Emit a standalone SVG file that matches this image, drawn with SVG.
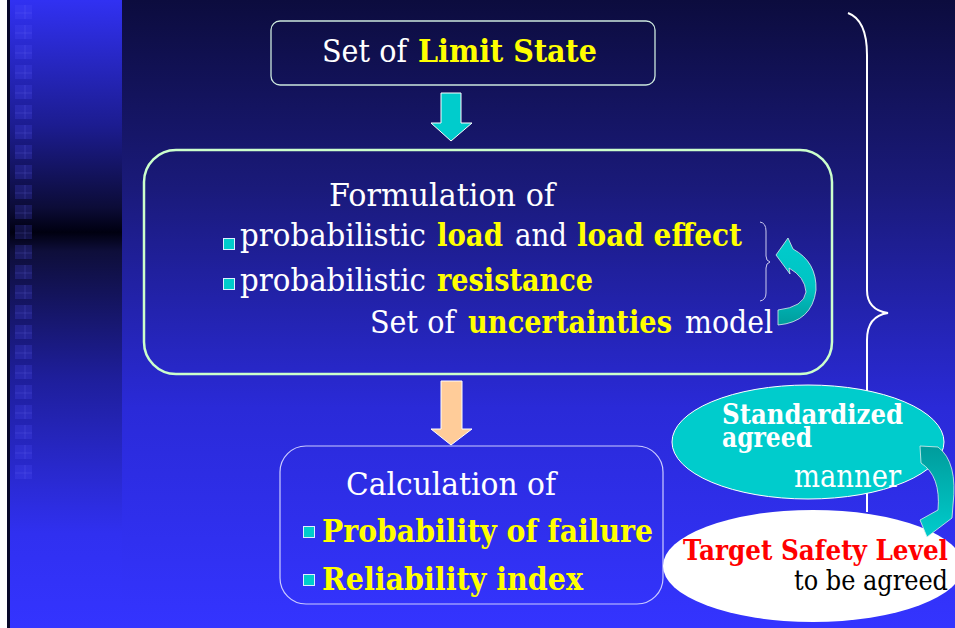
<svg xmlns="http://www.w3.org/2000/svg" width="955" height="628" viewBox="0 0 955 628">
<defs>
<linearGradient id="bgMain" x1="0" y1="0" x2="0" y2="1">
<stop offset="0" stop-color="#0c0c3e"/>
<stop offset="0.3" stop-color="#1a1a7a"/>
<stop offset="0.65" stop-color="#2a2ad8"/>
<stop offset="1" stop-color="#3434ff"/>
</linearGradient>
<linearGradient id="bgStrip" x1="0" y1="0" x2="0" y2="1">
<stop offset="0" stop-color="#3131f2"/>
<stop offset="0.2" stop-color="#1c1c90"/>
<stop offset="0.33" stop-color="#0c0c38"/>
<stop offset="0.37" stop-color="#000010"/>
<stop offset="0.4" stop-color="#0e0e3a"/>
<stop offset="0.6" stop-color="#1e1e9a"/>
<stop offset="0.85" stop-color="#3030f0"/>
<stop offset="1" stop-color="#3434ff"/>
</linearGradient>
<linearGradient id="curl" x1="0" y1="0" x2="0" y2="1">
<stop offset="0" stop-color="#00cccc"/>
<stop offset="0.55" stop-color="#00c4c4"/>
<stop offset="1" stop-color="#009c9c"/>
</linearGradient>
<linearGradient id="curl2" x1="0" y1="0" x2="0" y2="1">
<stop offset="0" stop-color="#009c9c"/>
<stop offset="1" stop-color="#00cccc"/>
</linearGradient>
<pattern id="sq" x="15" y="5" width="20" height="20" patternUnits="userSpaceOnUse">
<rect x="0" y="0" width="17" height="14" fill="#5050ff" fill-opacity="0.2"/>
<line x1="10" y1="0" x2="10" y2="14" stroke="#8080ff" stroke-opacity="0.25" stroke-width="0.7"/>
<line x1="0" y1="8" x2="17" y2="8" stroke="#8080ff" stroke-opacity="0.25" stroke-width="0.7"/>
</pattern>
</defs>
<style>
text{font-family:"DejaVu Serif","Liberation Serif","Times New Roman",serif;}
.w{fill:#ffffff;}
.y{fill:#ffff00;font-weight:bold;}
.b{font-size:32px;}
.s{font-size:28px;}
.bul{fill:#00cccc;stroke:#ddeeff;stroke-width:1;}
</style>

<rect x="0" y="0" width="955" height="628" fill="url(#bgMain)"/>
<rect x="0" y="0" width="7" height="628" fill="#ffffff"/>
<rect x="7" y="0" width="3" height="628" fill="#08082a"/>
<rect x="10" y="0" width="112" height="628" fill="url(#bgStrip)"/>
<rect x="15" y="5" width="20" height="475" fill="url(#sq)"/>

<path d="M848,13 Q867,20 867,55 L867,290 Q867,310 888,313 Q867,316 867,340 L867,512" fill="none" stroke="#ffffff" stroke-width="2"/>

<g id="limit-state">
<rect x="271" y="21" width="384" height="64" rx="9" fill="none" stroke="#cce8dd" stroke-width="1.3"/>
<text x="322" y="62" class="w b" textLength="85" lengthAdjust="spacingAndGlyphs">Set of</text>
<text x="418" y="62" class="y b" textLength="179" lengthAdjust="spacingAndGlyphs">Limit State</text>
</g>

<g id="formulation">
<rect x="144" y="150" width="688" height="224" rx="32" fill="none" stroke="#ccffcc" stroke-width="2.5"/>
<text x="329" y="206" class="w b" textLength="226" lengthAdjust="spacingAndGlyphs">Formulation of</text>
<rect x="223.5" y="238.5" width="11" height="11" class="bul"/>
<text x="240" y="246" class="w b" textLength="186" lengthAdjust="spacingAndGlyphs">probabilistic</text>
<text x="437" y="246" class="y b" textLength="66" lengthAdjust="spacingAndGlyphs">load</text>
<text x="515" y="246" class="w b" textLength="52" lengthAdjust="spacingAndGlyphs">and</text>
<text x="577" y="246" class="y b" textLength="165" lengthAdjust="spacingAndGlyphs">load effect</text>
<rect x="223.5" y="278.5" width="11" height="11" class="bul"/>
<text x="240" y="291" class="w b" textLength="186" lengthAdjust="spacingAndGlyphs">probabilistic</text>
<text x="437" y="291" class="y b" textLength="156" lengthAdjust="spacingAndGlyphs">resistance</text>
<text x="370" y="333" class="w b" textLength="85" lengthAdjust="spacingAndGlyphs">Set of</text>
<text x="468" y="333" class="y b" textLength="204" lengthAdjust="spacingAndGlyphs">uncertainties</text>
<text x="685" y="333" class="w b" textLength="88" lengthAdjust="spacingAndGlyphs">model</text>
<path d="M760,222 Q766,223 766,231 L766,256 Q766,261 770,262 Q766,263 766,268 L766,293 Q766,300 760,301" fill="none" stroke="#ccccee" stroke-width="1"/>
</g>

<g id="calculation">
<rect x="280" y="446" width="383" height="158" rx="26" fill="none" stroke="#ccccff" stroke-width="1.2"/>
<text x="346" y="495" class="w b" textLength="210" lengthAdjust="spacingAndGlyphs">Calculation of</text>
<rect x="303.5" y="526.5" width="11" height="11" class="bul"/>
<text x="322" y="542" class="y b" textLength="331" lengthAdjust="spacingAndGlyphs">Probability of failure</text>
<rect x="303.5" y="574.5" width="11" height="11" class="bul"/>
<text x="322" y="590" class="y b" textLength="261" lengthAdjust="spacingAndGlyphs">Reliability index</text>
</g>

<g id="standardized">
<ellipse cx="808" cy="442" rx="136" ry="57" fill="#00cccc" stroke="#ffffff" stroke-width="1"/>
<text x="722" y="424" class="w s" font-weight="bold" textLength="181" lengthAdjust="spacingAndGlyphs">Standardized</text>
<text x="722" y="447" class="w s" font-weight="bold" textLength="90" lengthAdjust="spacingAndGlyphs">agreed</text>
<text x="794" y="487" class="w b" textLength="107" lengthAdjust="spacingAndGlyphs">manner</text>
</g>

<g id="target">
<ellipse cx="813" cy="566" rx="150" ry="56" fill="#ffffff"/>
<text x="683" y="560" class="s" font-weight="bold" fill="#ff0000" textLength="265" lengthAdjust="spacingAndGlyphs">Target Safety Level</text>
<text x="794" y="590" class="s" fill="#000000" textLength="154" lengthAdjust="spacingAndGlyphs">to be agreed</text>
</g>

<g id="connectors">
<path d="M441,93 L461,93 L461,123 L472,123 L451,141 L431,123 L441,123 Z" fill="#00cccc" stroke="#ffffff" stroke-width="1"/>
<path d="M441,381 L462,381 L462,429 L472,429 L451,445 L431,429 L441,429 Z" fill="#ffcc99" stroke="#ffffff" stroke-width="1"/>
<path d="M776,255 L788,238 L793,249 Q817,262 816,290 Q812,322 778,325 L778,310 Q804,307 806,292 Q805,277 789,268 L790,274 Z" fill="url(#curl)" stroke="#ddeeee" stroke-width="0.8"/>
<path d="M920,446 L938,447 Q958,462 953,505 L952,518 L927,537 L920,520 L938,510 Q941,476 921,463 Z" fill="url(#curl2)" stroke="#ddeeee" stroke-width="0.8"/>
</g>
</svg>
